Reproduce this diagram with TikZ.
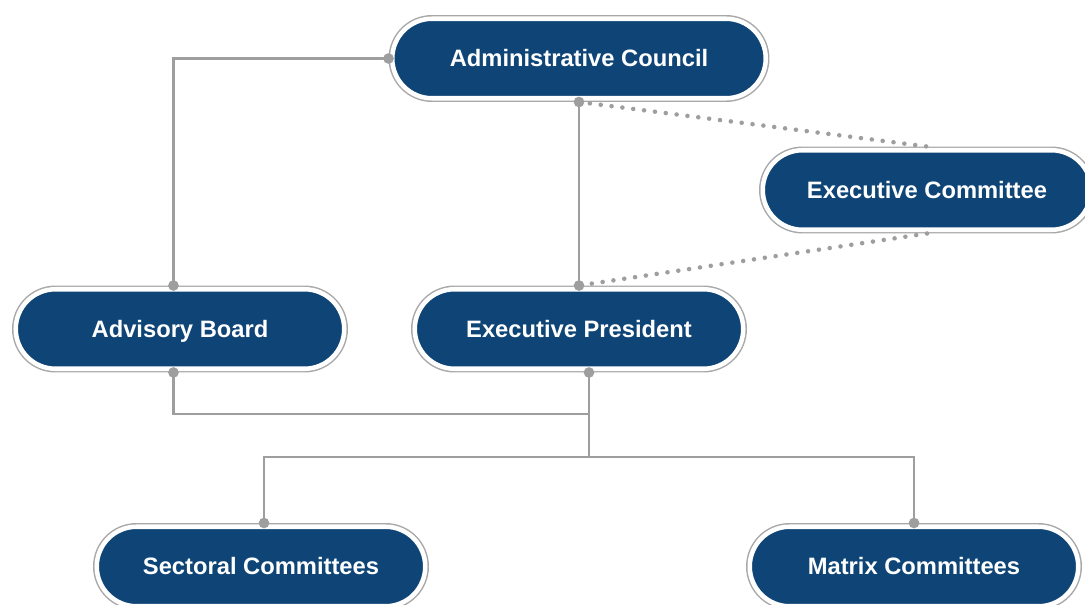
\documentclass[tikz,border=0pt]{standalone}
\usepackage{fontspec}
\setmainfont{Liberation Sans}
\usetikzlibrary{shapes.misc}

\definecolor{boxblue}{RGB}{14,69,118}
\definecolor{linegray}{RGB}{158,158,158}
\definecolor{ringgray}{RGB}{168,168,168}

\begin{document}
\begin{tikzpicture}[x=0.75pt,y=-0.75pt,
    pill/.style={rounded rectangle,fill=boxblue,draw=white,line width=3.4pt,
      preaction={draw=ringgray,line width=5.6pt},
      minimum width=328.5*0.75pt,minimum height=79.5*0.75pt,inner sep=0pt,outer sep=2.8pt,
      text=white,text height=12.7pt,text depth=0pt,font=\fontsize{17.8}{20}\selectfont\bfseries},
    link/.style={draw=linegray,line width=2pt},
    dotline/.style={draw=linegray,line width=3.4pt,line cap=round,dash pattern=on 0pt off 8.2pt}]

    \useasboundingbox (0,0) rectangle (1085,604);
    \fill[white] (0,0) rectangle (1085,604);

    \node[pill,minimum width=373.5*0.75pt] (council) at (579,58.5) {Administrative Council};
    \node[pill] (execcom) at (927,190) {Executive Committee};
    \node[pill] (advisory) at (180,329) {Advisory Board};
    \node[pill] (president) at (579,329) {Executive President};
    \node[pill] (sectoral) at (261,566.5) {Sectoral Committees};
    \node[pill] (matrix) at (914,566.5) {Matrix Committees};

    \coordinate (adv top) at ([xshift=-4.9pt]advisory.north);
    \coordinate (adv bot) at ([xshift=-4.9pt]advisory.south);
    \coordinate (pres bot) at ([xshift=7.5pt]president.south);
    \coordinate (sec top) at ([xshift=2.25pt]sectoral.north);
    \coordinate (join) at (pres bot |- 0,414);
    \coordinate (fork) at (pres bot |- 0,457);

    \draw[link] (council.west) -| (adv top);
    \draw[link] (council.south) -- (president.north);
    \draw[link] (adv bot) |- (join);
    \draw[link] (pres bot) -- (fork);
    \draw[link] (sec top) |- (fork) -| (matrix.north);

    \draw[dotline] (council.south) -- (execcom.north);
    \draw[dotline] (execcom.south) -- (president.north);

    \foreach \p in {council.west,council.south,adv top,adv bot,president.north,pres bot,sec top,matrix.north}
      \fill[linegray] (\p) circle (4pt);

\end{tikzpicture}
\end{document}
